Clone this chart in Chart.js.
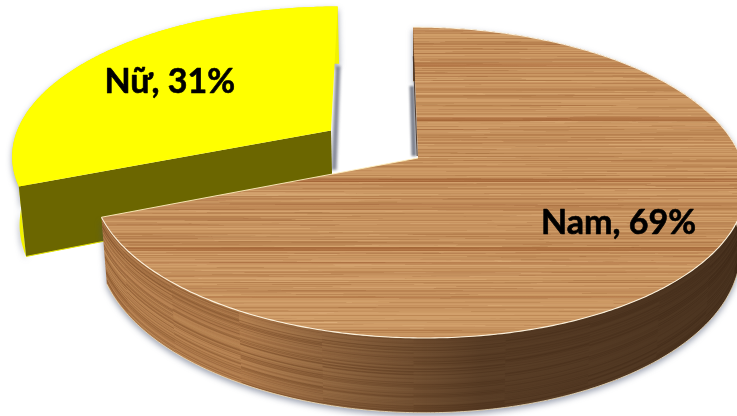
<!DOCTYPE html>
<html><head><meta charset="utf-8">
<style>html,body{margin:0;padding:0;background:#fff}canvas{display:block}</style>
<script src="https://cdn.jsdelivr.net/npm/chart.js@4"></script>
</head><body>
<canvas id="c" width="737" height="416"></canvas>
<script>
const categories = ["Nam", "Nữ"];
const values = [69, 31];
const sliceColors = ["#C49262", "#FFFF00"];
const labelRadii = [0.696, 0.668];
const wallDepths = [1, 1.08];

// perspective view of the flat pie
const view = {x0:418, y0:158, s:323, q:5.8, t:151.6, k:0.1576, depth:63, taper:0.017};
function proj(u, v, d) {
  const w = 1 - view.k * v;
  const x = view.x0 + (view.s * u + view.q * v) / w;
  const y = view.y0 + view.t * v / w;
  return [x - (x - view.x0) * view.taper * d, y + view.depth * d / w];
}
const rnd = n => { const s = Math.sin(n * 12.9898 + 4.1) * 43758.5453; return s - Math.floor(s); };

function makeWood() {
  const a = document.createElement('canvas'); a.width = 737; a.height = 416;
  const g = a.getContext('2d');
  g.fillStyle = 'rgb(201,149,97)'; g.fillRect(0,0,737,416);
  for (let y = 0; y < 416; y++) {
    const r = rnd(y + 0.5);
    g.fillStyle = r < 0.5 ? `rgba(150,90,45,${(0.5-r)*0.7})` : `rgba(232,186,130,${(r-0.5)*0.55})`;
    g.fillRect(0,y,737,1);
  }
  for (let i = 0; i < 1700; i++) {
    const y = Math.floor(rnd(i*1.3+7)*416), x = rnd(i*2.1+3)*800-60, l = 30+rnd(i*3.7+1)*260, r = rnd(i*5.3+2);
    g.fillStyle = r < 0.55 ? `rgba(145,85,42,${0.05+r*0.3})` : `rgba(236,194,142,${0.05+(r-0.55)*0.4})`;
    g.fillRect(x,y,l,1);
  }
  [[63,1,.3],[64,3,.45],[117,1,.25],[118,3,.45],[178,1,.3],[179,3,.5],[247,1,.3],[248,3,.45],[262,2,.25],[88,1,.25],[140,1,.25],[205,2,.2],[296,2,.2]].forEach(([y,h,al]) => {
    const gr = g.createLinearGradient(100,0,737,0);
    gr.addColorStop(0,`rgba(150,78,35,${al*.6})`); gr.addColorStop(.4,`rgba(150,78,35,${al})`); gr.addColorStop(1,`rgba(150,78,35,${al*.7})`);
    g.fillStyle = gr; g.fillRect(0,y,737,h);
  });
  const b = document.createElement('canvas'); b.width = 737; b.height = 416;
  const bg = b.getContext('2d'); bg.filter = 'blur(0.5px)'; bg.drawImage(a,0,0);
  return b;
}

function rimPoints(a0, a1, ou, ov, d) {
  const pts = [], n = Math.max(4, Math.ceil(Math.abs(a1-a0)*90));
  for (let i = 0; i <= n; i++) { const a = a0+(a1-a0)*i/n; pts.push(proj(ou+Math.cos(a), ov+Math.sin(a), d)); }
  return pts;
}
function trace(ctx, pts, first) {
  pts.forEach((p,i) => (i===0 && first) ? ctx.moveTo(p[0],p[1]) : ctx.lineTo(p[0],p[1]));
}
function softLine(ctx, p, q, color, blur, width) {
  ctx.save(); ctx.filter = `blur(${blur}px)`; ctx.strokeStyle = color; ctx.lineWidth = width;
  ctx.beginPath(); ctx.moveTo(p[0],p[1]); ctx.lineTo(q[0],q[1]); ctx.stroke(); ctx.restore();
}

function makeWallTexture(a0, a1, ou, ov, dmax) {
  const c = document.createElement('canvas'); c.width = 737; c.height = 416;
  const g = c.getContext('2d');
  g.fillStyle = 'rgb(182,128,80)'; g.fillRect(0,0,737,416);
  const N = 130;
  for (let i = 0; i < N; i++) {
    const d = -0.1 + (dmax+0.2)*i/(N-1), row = rimPoints(a0,a1,ou,ov,d), seg = 22;
    g.lineWidth = 1;
    for (let j = 0; j+1 < row.length; j += seg) {
      const r = rnd(i*3.1 + Math.floor(j/(seg*(1+i%3)))*0.77 + 11);
      g.strokeStyle = r < 0.55 ? `rgba(112,66,30,${r*0.75})` : `rgba(216,168,112,${(r-0.55)*0.5})`;
      g.beginPath(); trace(g,row.slice(j,j+seg+1),true); g.stroke();
    }
  }
  return c;
}

function drawSlice(ctx, arc, isWood, dmax) {
  const a0 = arc.startAngle, a1 = arc.endAngle, mid = (a0+a1)/2;
  const ex = arc.options.offset / arc.outerRadius;
  const ou = Math.cos(mid)*ex, ov = Math.sin(mid)*ex;
  const top = rimPoints(a0,a1,ou,ov,0), bot = rimPoints(a0,a1,ou,ov,dmax);
  const apex = proj(ou,ov,0), apexB = proj(ou,ov,dmax);

  // soft drop shadow of the walls
  ctx.save();
  ctx.filter = 'blur(3px)'; ctx.fillStyle = 'rgba(70,80,110,0.55)';
  ctx.translate(0,3);
  ctx.beginPath(); trace(ctx,top,true); trace(ctx,bot.slice().reverse(),false); ctx.closePath(); ctx.fill();
  ctx.restore();

  // outer wall
  ctx.save();
  ctx.beginPath(); trace(ctx,top,true); trace(ctx,bot.slice().reverse(),false); ctx.closePath();
  if (isWood) {
    ctx.clip();
    ctx.save(); ctx.filter = 'blur(0.6px)'; ctx.drawImage(makeWallTexture(a0,a1,ou,ov,dmax),0,0); ctx.restore();
    const sh = ctx.createLinearGradient(100,0,737,0);
    sh.addColorStop(0,'rgba(52,34,20,0)');
    sh.addColorStop(0.22,'rgba(52,34,20,0.05)');
    sh.addColorStop(0.42,'rgba(52,34,20,0.42)');
    sh.addColorStop(0.6,'rgba(52,34,20,0.72)');
    sh.addColorStop(1,'rgba(45,30,18,0.8)');
    ctx.fillStyle = sh; ctx.fillRect(0,0,737,416);
  } else {
    ctx.fillStyle = '#F2F200'; ctx.fill();
  }
  ctx.restore();

  if (isWood) {
    ctx.strokeStyle = 'rgba(240,225,190,0.8)'; ctx.lineWidth = 1;
    ctx.beginPath(); trace(ctx,bot,true); ctx.stroke();
  } else {
    // exposed cut face at the slice's start edge
    ctx.fillStyle = '#6B6600';
    ctx.beginPath(); ctx.moveTo(apex[0],apex[1]); ctx.lineTo(top[0][0],top[0][1]);
    ctx.lineTo(bot[0][0],bot[0][1]); ctx.lineTo(apexB[0],apexB[1]); ctx.closePath(); ctx.fill();
    ctx.strokeStyle = '#E4E400'; ctx.lineWidth = 1;
    ctx.beginPath(); ctx.moveTo(bot[0][0],bot[0][1]); ctx.lineTo(apexB[0],apexB[1]); ctx.stroke();
  }

  // top face
  ctx.save();
  ctx.beginPath(); ctx.moveTo(apex[0],apex[1]); trace(ctx,top,false); ctx.closePath();
  if (isWood) { ctx.clip(); ctx.drawImage(makeWood(),0,0); } else { ctx.fillStyle = arc.options.backgroundColor; ctx.fill(); }
  ctx.restore();

  if (isWood) {
    const end = top[top.length-1];
    ctx.lineJoin = 'round';
    ctx.strokeStyle = 'rgba(255,246,225,0.95)'; ctx.lineWidth = 1.1;
    ctx.beginPath(); trace(ctx,top,true); ctx.stroke();
    ctx.strokeStyle = 'rgba(255,240,190,0.9)'; ctx.lineWidth = 1;
    ctx.beginPath(); ctx.moveTo(end[0],end[1]); ctx.lineTo(apex[0],apex[1]); ctx.stroke();
    ctx.strokeStyle = 'rgba(70,50,35,0.9)'; ctx.lineWidth = 1.1;
    const mid1 = proj(ou, ov-0.75, 0);
    ctx.beginPath(); ctx.moveTo(mid1[0]-0.8,mid1[1]); ctx.lineTo(apex[0]-0.8,apex[1]-2); ctx.stroke();
  }
}

const wood3d = {
  id:'wood3d',
  beforeDatasetsDraw(chart) {
    const ctx = chart.ctx, arcs = chart.getDatasetMeta(0).data, ds = chart.data.datasets[0];
    ctx.save();
    // side shadows near the two open edges
    softLine(ctx,[338,66],[334,170],'rgba(90,95,115,0.75)',1.5,5);
    drawSlice(ctx,arcs[1],false,wallDepths[1]);
    softLine(ctx,[412,86],[414,156],'rgba(95,100,115,0.8)',1.3,5);
    drawSlice(ctx,arcs[0],true,wallDepths[0]);
    // value labels
    ctx.fillStyle = '#000'; ctx.strokeStyle = '#000'; ctx.lineWidth = 0.6; ctx.lineJoin = 'round';
    ctx.textAlign = 'center'; ctx.textBaseline = 'middle';
    ctx.font = 'bold 34px Lato, "Open Sans", sans-serif';
    arcs.forEach((arc,i) => {
      const mid = (arc.startAngle+arc.endAngle)/2, ex = arc.options.offset/arc.outerRadius, r = ex+labelRadii[i];
      const p = proj(Math.cos(mid)*r, Math.sin(mid)*r, 0);
      const text = `${chart.data.labels[i]}, ${ds.data[i]}%`;
      ctx.strokeText(text, p[0], p[1]+2);
      ctx.fillText(text, p[0], p[1]+2);
    });
    ctx.restore();
    return false;
  }
};

new Chart(document.getElementById('c'), {
  type:'pie',
  data:{labels:categories, datasets:[{data:values, backgroundColor:sliceColors, borderWidth:0, offset:[0,53], radius:160}]},
  options:{responsive:false, animation:false, layout:{padding:0},
    plugins:{legend:{display:false}, tooltip:{enabled:false}}},
  plugins:[wood3d]
});
</script>
</body></html>
